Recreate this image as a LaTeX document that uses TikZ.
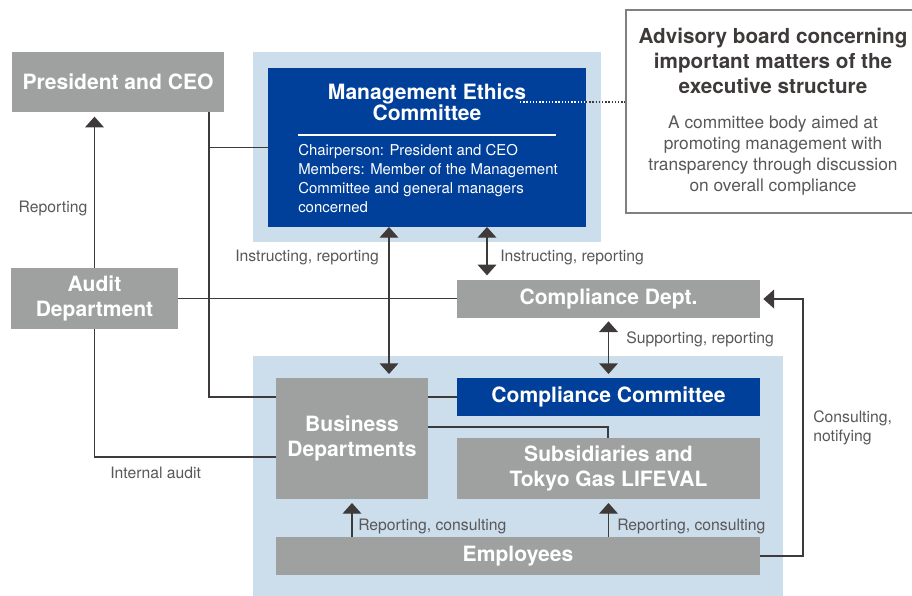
\documentclass[tikz,border=0pt]{standalone}
\usepackage{fontspec}
\setmainfont{TeX Gyre Heros}
\usetikzlibrary{arrows.meta,calc,positioning}
\definecolor{boxgray}{HTML}{9FA0A0}
\definecolor{deepblue}{HTML}{00409A}
\definecolor{paleblue}{HTML}{CCDDEC}
\definecolor{linedark}{HTML}{3E3A39}
\definecolor{labelgray}{HTML}{595757}

\begin{document}
\begin{tikzpicture}[x=0.75pt,y=-0.75pt,
    sz/.style 2 args={minimum width=#1*0.75pt,minimum height=#2*0.75pt},
    graybox/.style={fill=boxgray,text=white,inner sep=0pt,outer sep=0pt,align=center,
      font=\fontsize{15.8}{18.75}\selectfont\bfseries},
    bluebox/.style={graybox,fill=deepblue},
    panel/.style={fill=paleblue,inner sep=0pt,outer sep=0pt},
    lbl/.style={text=labelgray,inner sep=0pt,font=\fontsize{11.8}{14.25}\selectfont},
    wire/.style={draw=linedark,line width=1pt},
    arr/.style={wire,-{Triangle[width=14pt,length=8pt]}},
    darr/.style={wire,{Triangle[width=14pt,length=8pt]}-{Triangle[width=14pt,length=8pt]}}]
    \path[use as bounding box] (0,0) rectangle (912,595);
    % latar biru muda
    \node[panel,sz={348}{190}] (toppanel) at (427,147) {};
    \node[panel,sz={530}{240}] (botpanel) at (518,476) {};
    % kotak utama
    \node[graybox,sz={212}{60}] (ceo) at (118,82) {President and CEO};
    \node[graybox,sz={167}{61}] (audit) at (94.5,298.5) {Audit\\Department};
    \node[bluebox,sz={318}{159}] (mec) at (427,147.5) {};
    \node[text=white,align=center,inner sep=0pt,font=\fontsize{15.8}{16}\selectfont\bfseries] (mectitle) at (427,102.5) {Management Ethics\\Committee};
    \draw[white,line width=0.8pt] (298,135) -- (556,135);
    \node[anchor=north west,align=left,text=white,inner sep=0pt,font=\fontsize{11.2}{14.25}\selectfont] (mecmembers) at (298,144) {Chairperson: President and CEO\\Members: Member of the Management\\Committee and general managers\\concerned};
    \node[draw=gray,line width=0.8pt,sz={288}{203},inner sep=0pt] (adv) at (770,111.5) {};
    \node[text=linedark,align=center,inner sep=0pt,font=\fontsize{15.5}{18.75}\selectfont\bfseries] (advtitle) at (773,60.5) {Advisory board concerning\\important matters of the\\executive structure};
    \node[text=labelgray,align=center,inner sep=0pt,font=\fontsize{13}{15.9}\selectfont] (advbody) at (773,155.5) {A committee body aimed at\\promoting management with\\transparency through discussion\\on overall compliance};
    \node[graybox,sz={303}{38}] (cdept) at (608.5,299) {Compliance Dept.};
    \node[graybox,sz={152}{121}] (biz) at (352,438.5) {Business\\Departments};
    \node[bluebox,sz={303}{38}] (ccom) at (608.5,397) {Compliance Committee};
    \node[graybox,sz={303}{61}] (subs) at (608.5,468.5) {Subsidiaries and\\Tokyo Gas LIFEVAL};
    \node[graybox,sz={484}{38}] (emp) at (518,556) {Employees};
    % titik belok
    \coordinate (ceodrop) at (209,397);
    \coordinate (auditdrop) at (94.5,457);
    \coordinate (xleft) at (389,0);
    \coordinate (xright) at (487,0);
    \coordinate (bizjog) at (608,427);
    \coordinate (rightrail) at (803,0);
    \coordinate (dotstart) at (520,102);
    % garis penghubung
    \draw[wire] (ceo.south -| ceodrop) -- (ceodrop) -- (biz.west |- ceodrop);
    \draw[wire] (mec.west) -- (mec.west -| ceodrop);
    \draw[wire] (biz.east |- ccom.west) -- (ccom.west);
    \draw[wire] (audit.east) -- (cdept.west |- audit.east);
    \draw[wire] (audit.south) -- (auditdrop) -- (biz.west |- auditdrop);
    \draw[wire] (biz.east |- bizjog) -- (bizjog) -- (subs.north -| bizjog);
    \draw[arr,shorten >=3.5pt] (audit.north) -- (audit.north |- ceo.south);
    \draw[darr,shorten >=3pt] (mec.south -| xleft) -- (biz.north -| xleft);
    \draw[darr,shorten >=3.5pt] (mec.south -| xright) -- (cdept.north -| xright);
    \draw[darr,shorten <=2.5pt,shorten >=3pt] (cdept.south) -- (ccom.north);
    \draw[arr,shorten >=3pt] (emp.north -| biz.south) -- (biz.south);
    \draw[arr,shorten >=3pt] (emp.north -| subs.south) -- (subs.south);
    \draw[arr,shorten >=2.5pt] (emp.east) -- (emp.east -| rightrail) -- (rightrail |- cdept.east) -- (cdept.east);
    \draw[white,line width=0.9pt,dash pattern=on 1pt off 1.4pt] (dotstart) -- (dotstart -| mec.east);
    \draw[linedark,line width=0.9pt,dash pattern=on 1pt off 1.4pt] (dotstart -| mec.east) -- (dotstart -| adv.west);
    % label
    \node[lbl] (lblrep) at (53,208) {Reporting};
    \node[lbl,anchor=west] (lblinstl) at (235,257) {Instructing, reporting};
    \node[lbl,anchor=west] (lblinstr) at (500,257) {Instructing, reporting};
    \node[lbl,anchor=west] (lblsupp) at (626,339) {Supporting, reporting};
    \node[lbl,anchor=west] (lblaudit) at (110,473) {Internal audit};
    \node[lbl,anchor=west] (lblrepl) at (358,526) {Reporting, consulting};
    \node[lbl,anchor=west] (lblrepr) at (617,526) {Reporting, consulting};
    \node[lbl,anchor=west,align=left] (lblcons) at (813,428) {Consulting,\\notifying};
\end{tikzpicture}
\end{document}
